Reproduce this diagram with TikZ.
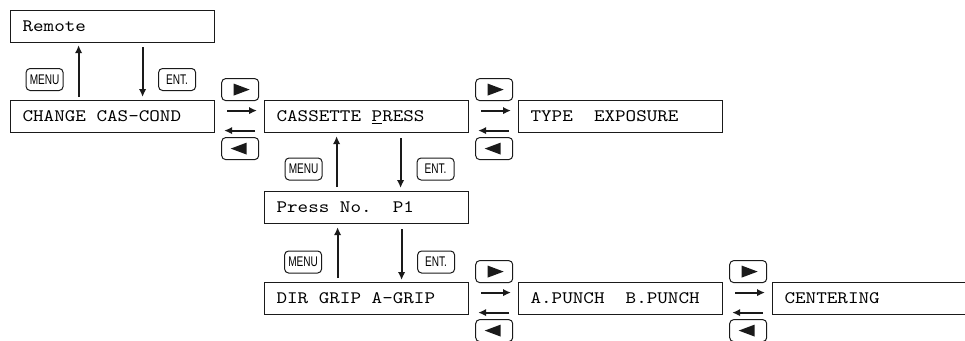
\documentclass[tikz,border=0pt]{standalone}
\usepackage{fontspec}
\usetikzlibrary{arrows.meta, positioning}
\newfontfamily\lcdfont[FakeStretch=1.15]{lmmono10-regular.otf}
\newfontfamily\keyfont[FakeStretch=0.72]{Liberation Sans}
\definecolor{lineDark}{HTML}{1A1A1A}
\newcommand\lcdsize{\lcdfont\fontsize{17.5pt}{20pt}\selectfont
  \fontdimen2\font=10.57pt \fontdimen3\font=0pt \fontdimen4\font=0pt}

\begin{document}
\begin{tikzpicture}[x=1pt, y=-1pt,
    screen/.style={rectangle, draw=lineDark, line width=1.2pt, anchor=north west,
                   inner xsep=12pt, inner ysep=0pt, text width=180pt, minimum height=32pt,
                   align=flush left, text height=10.5pt, text depth=0pt, font=\lcdsize},
    key/.style={rectangle, rounded corners=4pt, draw=lineDark, line width=1pt,
                minimum width=37pt, minimum height=22pt, inner sep=0pt,
                font=\keyfont\fontsize{14pt}{14pt}\selectfont},
    fwdkey/.style={key, path picture={
        \fill[lineDark, sharp corners] ([xshift=-6.5pt, yshift=6pt]path picture bounding box.center)
          -- ([xshift=9.5pt]path picture bounding box.center)
          -- ([xshift=-6.5pt, yshift=-6pt]path picture bounding box.center) -- cycle;}},
    bwdkey/.style={key, path picture={
        \fill[lineDark, sharp corners] ([xshift=6.5pt, yshift=6pt]path picture bounding box.center)
          -- ([xshift=-9.5pt]path picture bounding box.center)
          -- ([xshift=6.5pt, yshift=-6pt]path picture bounding box.center) -- cycle;}},
    move/.style={draw=lineDark, line width=2pt, -{Latex[length=8pt, width=7.5pt]}},
  ]
    \useasboundingbox (0,0) rectangle (965,340);
    \clip (0,0) rectangle (965,340);

    \node[screen] (remote) at (10,10) {Remote};
    \node[screen] (change) at (10,100) {CHANGE CAS-COND};
    \node[screen] (cassette) at (264,100) {CASSETTE \underline{P}RESS};
    \node[screen] (type) at (518,100) {TYPE~~EXPOSURE};
    \node[screen] (press) at (264,191) {Press No.~~P1};
    \node[screen] (dirgrip) at (264,282) {DIR GRIP A-GRIP};
    \node[screen] (punch) at (518,282) {A.PUNCH~~B.PUNCH};
    \node[screen] (centering) at (772,282) {CENTERING};

    % MENU / ENT. between levels
    \node[key] (menuA) at ([xshift=-68pt, yshift=20.5pt]change.north) {MENU};
    \node[key] (entA) at ([xshift=64.5pt, yshift=20.5pt]change.north) {ENT.};
    \node[key] (menuB) at ([xshift=-63pt, yshift=22pt]press.north) {MENU};
    \node[key] (entB) at ([xshift=69pt, yshift=22pt]press.north) {ENT.};
    \node[key] (menuC) at ([xshift=-63.5pt, yshift=20pt]dirgrip.north) {MENU};
    \node[key] (entC) at ([xshift=69.5pt, yshift=20pt]dirgrip.north) {ENT.};

    \draw[move] ([xshift=-34pt, yshift=3pt]change.north) -- ([xshift=-34pt, yshift=-2pt]remote.south);
    \draw[move] ([xshift=30pt, yshift=-4pt]remote.south) -- ([xshift=30pt, yshift=3pt]change.north);
    \draw[move] ([xshift=-30pt, yshift=4pt]press.north) -- ([xshift=-30pt, yshift=-3pt]cassette.south);
    \draw[move] ([xshift=34pt, yshift=-5pt]cassette.south) -- ([xshift=34pt, yshift=3pt]press.north);
    \draw[move] ([xshift=-29pt, yshift=4pt]dirgrip.north) -- ([xshift=-29pt, yshift=-3pt]press.south);
    \draw[move] ([xshift=35pt, yshift=-5pt]press.south) -- ([xshift=35pt, yshift=2pt]dirgrip.north);

    % cursor keys between screens
    \node[fwdkey] (nextA) at ([xshift=25pt, yshift=27pt]change.east) {};
    \node[bwdkey] (prevA) at ([xshift=25pt, yshift=-32pt]change.east) {};
    \node[fwdkey] (nextB) at ([xshift=25pt, yshift=27pt]cassette.east) {};
    \node[bwdkey] (prevB) at ([xshift=25pt, yshift=-32pt]cassette.east) {};
    \node[fwdkey] (nextC) at ([xshift=25pt, yshift=27pt]dirgrip.east) {};
    \node[bwdkey] (prevC) at ([xshift=25pt, yshift=-32pt]dirgrip.east) {};
    \node[fwdkey] (nextD) at ([xshift=25pt, yshift=27pt]punch.east) {};
    \node[bwdkey] (prevD) at ([xshift=25pt, yshift=-32pt]punch.east) {};

    \draw[move] ([xshift=12pt, yshift=6pt]change.east) -- ([xshift=-7pt, yshift=6pt]cassette.west);
    \draw[move] ([xshift=-9pt, yshift=-14pt]cassette.west) -- ([xshift=9pt, yshift=-14pt]change.east);
    \draw[move] ([xshift=12pt, yshift=6pt]cassette.east) -- ([xshift=-7pt, yshift=6pt]type.west);
    \draw[move] ([xshift=-9pt, yshift=-14pt]type.west) -- ([xshift=9pt, yshift=-14pt]cassette.east);
    \draw[move] ([xshift=12pt, yshift=6pt]dirgrip.east) -- ([xshift=-7pt, yshift=6pt]punch.west);
    \draw[move] ([xshift=-9pt, yshift=-14pt]punch.west) -- ([xshift=9pt, yshift=-14pt]dirgrip.east);
    \draw[move] ([xshift=12pt, yshift=6pt]punch.east) -- ([xshift=-7pt, yshift=6pt]centering.west);
    \draw[move] ([xshift=-9pt, yshift=-14pt]centering.west) -- ([xshift=9pt, yshift=-14pt]punch.east);
\end{tikzpicture}
\end{document}
